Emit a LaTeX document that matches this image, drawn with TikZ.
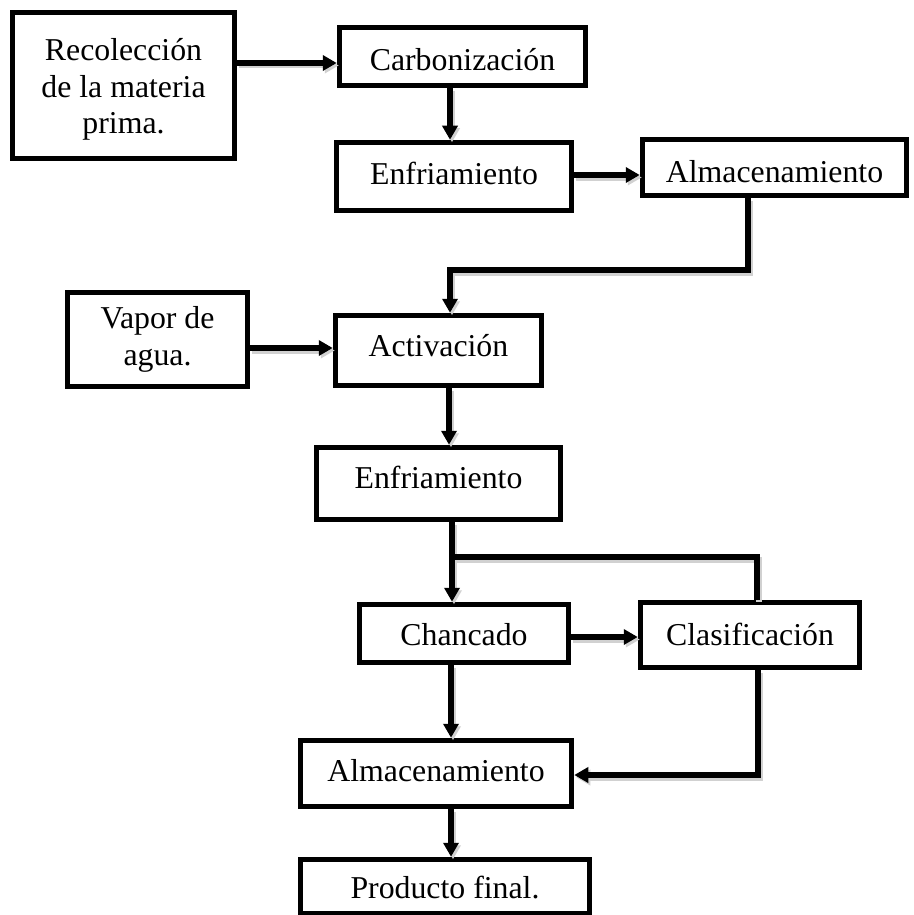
\documentclass[tikz,border=0pt]{standalone}
\usepackage{fontspec}
\setmainfont{Liberation Serif}
\usetikzlibrary{arrows.meta}
\tikzset{
  box/.style={draw, rectangle, line width=5.5pt, inner sep=0pt, line join=miter},
  txt/.style={font=\fontsize{31.8}{36.6}\selectfont, align=center, inner sep=0pt},
  arr/.style={line width=5.5pt, -{Triangle[length=14pt,width=15pt]}},
  lnk/.style={line width=5.5pt},
  arrsh/.style={line width=6pt, draw=black!18, -{Triangle[length=14pt,width=15pt,fill=black!18]}},
  lnksh/.style={line width=6pt, draw=black!18}
}
\newcommand\allconn[2]{%
\draw[#1] (rec.east |- h1) -- (carb.west |- h1);
\draw[#1] (carb.south -| v1) -- (enf1.north -| v1);
\draw[#1] (enf1.east |- h2) -- (alm1.west |- h2);
\draw[#1] (alm1.south -| b1) -- (b1) -- (b2) -- (act.north -| b2);
\draw[#1] (vapor.east |- h3) -- (act.west |- h3);
\draw[#1] (act.south -| v2) -- (enf2.north -| v2);
\draw[#1] (enf2.south -| v3) -- (chan.north -| v3);
\draw[#2] (j1) -- (j2) -- (clas.north -| j2);
\draw[#1] (chan.east |- h4) -- (clas.west |- h4);
\draw[#1] (chan.south -| v4) -- (alm2.north -| v4);
\draw[#1] (clas.south -| b3) -- (b3) -- (alm2.east |- b3);
\draw[#1] (alm2.south -| v4) -- (prod.north -| v4);
}
\begin{document}
\begin{tikzpicture}[x=1pt,y=-1pt]
\useasboundingbox (0,0) rectangle (913,915);
\fill[white] (0,0) rectangle (913,915);
% boxes
\node[box, minimum width=222pt, minimum height=146pt, label={[txt,yshift=-4pt]center:Recolección\\de la materia\\prima.}] (rec) at (123.5,85.5) {};
\node[box, minimum width=246pt, minimum height=58pt, label={[txt,yshift=-3pt]center:Carbonización}] (carb) at (462.5,56.5) {};
\node[box, minimum width=235pt, minimum height=68pt, label={[txt,yshift=3pt]center:Enfriamiento}] (enf1) at (454,176.5) {};
\node[box, minimum width=264pt, minimum height=56pt, label={[txt,yshift=-4pt]center:Almacenamiento}] (alm1) at (774.5,167.5) {};
\node[box, minimum width=180pt, minimum height=94pt, label={[txt]center:Vapor de\\agua.}] (vapor) at (157.5,339.5) {};
\node[box, minimum width=206pt, minimum height=70pt, label={[txt,yshift=5pt]center:Activación}] (act) at (438.5,350.5) {};
\node[box, minimum width=244pt, minimum height=72pt, label={[txt,yshift=6pt]center:Enfriamiento}] (enf2) at (438.5,483.5) {};
\node[box, minimum width=209pt, minimum height=58pt, label={[txt,yshift=-1pt]center:Chancado}] (chan) at (464,633.5) {};
\node[box, minimum width=219pt, minimum height=65pt, label={[txt,yshift=1pt]center:Clasificación}] (clas) at (750,635) {};
\node[box, minimum width=271pt, minimum height=66pt, label={[txt,yshift=3pt]center:Almacenamiento}] (alm2) at (436,773.5) {};
\node[box, minimum width=289pt, minimum height=54pt, label={[txt,yshift=-1pt]center:Producto final.}] (prod) at (445,886.5) {};
% helper coordinates
\coordinate (h1) at (0,63);
\coordinate (v1) at (450,0);
\coordinate (h2) at (0,175);
\coordinate (b1) at (748,270);
\coordinate (b2) at (450,270);
\coordinate (h3) at (0,348);
\coordinate (v2) at (449,0);
\coordinate (v3) at (452,0);
\coordinate (j1) at (452,557);
\coordinate (j2) at (757,557);
\coordinate (h4) at (0,637);
\coordinate (v4) at (451,0);
\coordinate (b3) at (758,775);
% connectors: soft shadow, then line
\begin{scope}[transform canvas={shift={(2pt,-2.5pt)}}]
\allconn{arrsh}{lnksh}
\end{scope}
\allconn{arr}{lnk}
\end{tikzpicture}
\end{document}
